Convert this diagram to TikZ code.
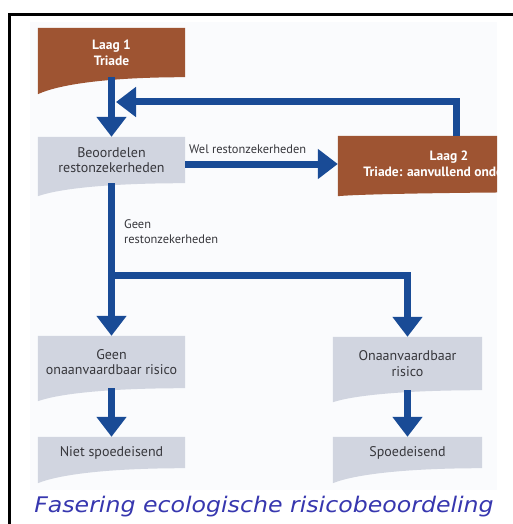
\documentclass[tikz,border=0pt]{standalone}
\usepackage{fontspec}
\newfontfamily\boxfont{PT Sans}
\newfontfamily\capfont{DejaVu Sans}
\usetikzlibrary{arrows.meta,backgrounds,calc}
\definecolor{brownbox}{RGB}{158,84,50}
\definecolor{graybox}{RGB}{209,213,224}
\definecolor{arrowblue}{RGB}{25,75,150}
\definecolor{txtgray}{RGB}{55,55,60}
\definecolor{capblue}{RGB}{55,55,175}
\definecolor{panel}{RGB}{250,251,253}
\newcommand\wavefill[3]{%
  \fill[#2] (#1.north west) -- (#1.north east) -- (#1.south east)
    .. controls ([xshift=-75pt]#1.south east) and ([xshift=22pt,yshift=-#3*0.4pt]#1.south west)
    .. ([yshift=-#3pt]#1.south west) -- cycle;}
\begin{document}
\begin{tikzpicture}[x=1pt,y=-1pt,
  box/.style={inner sep=0pt, minimum width=147pt, align=center,
    font=\boxfont\fontsize{14}{15.5}\selectfont, text=txtgray},
  darkbox/.style={box, text=white, font=\boxfont\bfseries\fontsize{13.5}{16}\selectfont},
  lbl/.style={inner sep=0pt, align=left, font=\boxfont\fontsize{12.4}{15}\selectfont, text=txtgray},
  arr/.style={draw=arrowblue, line width=7pt, -{Triangle[width=29pt,length=20pt]}},
  frame/.style={draw=black, line width=3pt}]
\useasboundingbox (0,0) rectangle (513,524);

% boxes
\node[darkbox, minimum height=49pt] (l1) at (111.5,52.5) {Laag 1\\Triade};
\node[box, minimum height=46pt] (b) at (111.5,160) {Beoordelen\\restonzekerheden};
\begin{scope}
  \clip (0,0) rectangle (497,524);
  \node[darkbox, minimum width=222pt, minimum height=56pt] (l2) at (449,164) {Laag 2\\Triade: aanvullend onderzoek};
\end{scope}
\node[box, minimum height=52pt] (g) at (111.5,362) {Geen\\onaanvaardbaar risico};
\node[box, minimum width=149pt, minimum height=53pt] (o) at (407.5,363.5) {Onaanvaardbaar\\risico};
\node[box, minimum height=31pt] (n) at (111.5,452.5) {Niet spoedeisend};
\node[box, minimum width=149pt, minimum height=31pt] (s) at (407.5,452.5) {Spoedeisend};

\begin{scope}[on background layer]
  \fill[white] (0,0) rectangle (513,524);
  \fill[panel] (30,22) rectangle (497,490);
  \draw[frame] (9.5,524) -- (9.5,14.5) -- (513,14.5);
  \wavefill{l1}{brownbox}{17}
  \wavefill{b}{graybox}{13}
  \wavefill{g}{graybox}{13}
  \wavefill{o}{graybox}{12}
  \wavefill{n}{graybox}{15}
  \wavefill{s}{graybox}{15}
  \begin{scope}
    \clip (0,0) rectangle (497,524);
    \wavefill{l2}{brownbox}{4}
  \end{scope}
\end{scope}

% labels
\node[lbl, anchor=west] (wel) at (189,149) {Wel restonzekerheden};
\node[lbl, anchor=west] (geen) at (124,231.5) {Geen\\restonzekerheden};

% connectors
\coordinate (fb) at (456,102);
\coordinate (fbend) at (116,102);
\coordinate (br) at (111.5,275);
\draw[arr] (l1.south) -- (b.north);
\draw[arr] (b.east |- l2.west) -- (l2.west);
\draw[arr] (l2.north -| fb) |- (fbend);
\draw[arr] (b.south) -- (g.north);
\draw[arr] (br) -| (o.north);
\draw[arr] (g.south) -- (n.north);
\draw[arr] (o.south) -- (s.north);

% caption
\node[inner sep=0pt, anchor=base, text=capblue] (cap) at (264,512)
  {\scalebox{1.1}[1]{\capfont\itshape\fontsize{21.5}{24}\selectfont Fasering ecologische risicobeoordeling}};
\end{tikzpicture}
\end{document}
